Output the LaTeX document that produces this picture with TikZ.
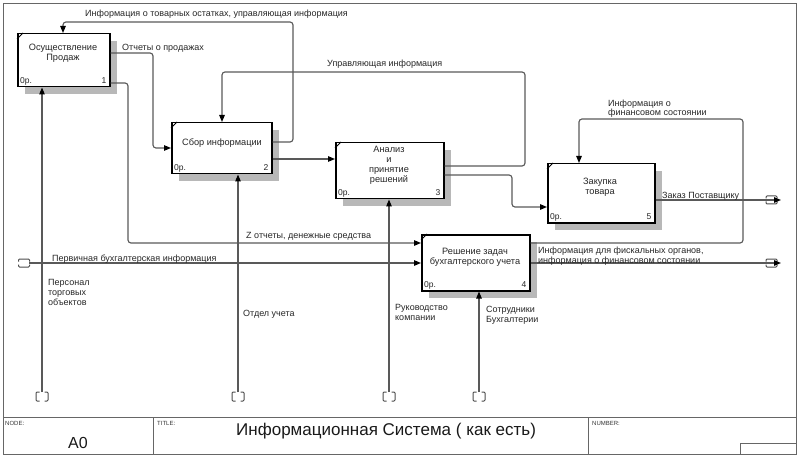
\documentclass[tikz,border=0pt]{standalone}
\usepackage{fontspec}
\setmainfont{Liberation Sans}
\usetikzlibrary{arrows.meta,shadows}
\begin{document}
\begin{tikzpicture}[x=1pt,y=-1pt,
  lf/.style={font=\fontsize{9}{9.8}\selectfont, text=black!85, inner sep=0pt, align=left},
  bt/.style={font=\fontsize{9.2}{10}\selectfont, text=black!85, inner sep=0pt, align=center},
  nl/.style={font=\fontsize{8.5}{9}\selectfont, text=black!85, inner sep=0pt},
  fn/.style={draw=black, line width=1.5pt, fill=white, anchor=north west, inner sep=0pt,
    drop shadow={shadow xshift=7pt, shadow yshift=-7pt, fill=black!28, opacity=1}},
  conn/.style={draw=black!65, line width=1.15pt, rounded corners=3pt},
  arr/.style={conn, -{Triangle[length=7pt,width=5.5pt,color=black,fill=black]}},
  tunh/.pic={\draw[black!70, line width=1pt, rounded corners=1pt]
     (-5.5,-1.5) -- (-5.5,-4) -- (5.5,-4) -- (5.5,-1.5)
     (-5.5,1.5) -- (-5.5,4) -- (5.5,4) -- (5.5,1.5);},
  tunv/.pic={\draw[black!70, line width=1pt, rounded corners=1pt]
     (-2.5,0) -- (-6,0) -- (-6,9) -- (-2.5,9)
     (2.5,0) -- (6,0) -- (6,9) -- (2.5,9);},
  frm/.style={draw=black!60, line width=0.9pt},
  ft/.style={font=\fontsize{6}{6.5}\selectfont, text=black!80, anchor=west, inner sep=0pt}
]
\useasboundingbox (0,0) rectangle (800,457);
% frame
\draw[frm] (3,3) rectangle (796,454);
\draw[frm] (3,417) -- (796,417);
\draw[frm] (153,417) -- (153,454);
\draw[frm] (588,417) -- (588,454);
\draw[frm] (740,454) -- (740,443) -- (796,443);
\node[ft] (tnode) at (5,423) {NODE:};
\node[ft] (ttitle) at (157,423) {TITLE:};
\node[ft] (tnum) at (592,423) {NUMBER:};
\node[font=\fontsize{16}{18}\selectfont, text=black!90, inner sep=0pt] (a0) at (78,443) {A0};
\node[font=\fontsize{17}{19}\selectfont, text=black!90, anchor=west, inner sep=0pt] (title) at (236,431) {Информационная Система ( как есть)};

% boxes
\node[fn, minimum width=92pt, minimum height=53pt,
  label={[nl, anchor=base west, xshift=3pt, yshift=4pt]south west:0р.},
  label={[nl, anchor=base east, xshift=-4pt, yshift=4pt]south east:1}] (b1) at (17,33) {};
\node[fn, minimum width=100pt, minimum height=51pt,
  label={[nl, anchor=base west, xshift=3pt, yshift=4pt]south west:0р.},
  label={[nl, anchor=base east, xshift=-4pt, yshift=4pt]south east:2}] (b2) at (171,122) {};
\node[fn, minimum width=108pt, minimum height=56pt,
  label={[nl, anchor=base west, xshift=3pt, yshift=4pt]south west:0р.},
  label={[nl, anchor=base east, xshift=-4pt, yshift=4pt]south east:3}] (b3) at (335,142) {};
\node[fn, minimum width=108pt, minimum height=56pt,
  label={[nl, anchor=base west, xshift=3pt, yshift=4pt]south west:0р.},
  label={[nl, anchor=base east, xshift=-4pt, yshift=4pt]south east:4}] (b4) at (421,234) {};
\node[fn, minimum width=107pt, minimum height=59pt,
  label={[nl, anchor=base west, xshift=3pt, yshift=4pt]south west:0р.},
  label={[nl, anchor=base east, xshift=-4pt, yshift=4pt]south east:5}] (b5) at (547,163) {};
\foreach \b in {b1,b2,b3,b4,b5}{
  \draw[line width=0.8pt] ([yshift=-6pt]\b.north west) -- ([xshift=6pt]\b.north west);
}
\node[bt] (b1t) at (63,53) {Осуществление\\Продаж};
\node[bt] (b2t) at (222,143) {Сбор информации};
\node[bt] (b3t) at (389,165) {Анализ\\и\\принятие\\решений};
\node[bt] (b4t) at (475,257) {Решение задач\\бухгалтерского учета};
\node[bt] (b5t) at (600,187) {Закупка\\товара};

% tunnels and free ends
\coordinate (tl) at (29,263);
\coordinate (tr1) at (781,200);
\coordinate (tr2) at (781,263);
\coordinate (m1) at (42,392);
\coordinate (m2) at (238,392);
\coordinate (m3) at (389,392);
\coordinate (m4) at (479,392);
\pic at (24,263) {tunh};
\pic at (771.5,200) {tunh};
\pic at (771.5,263) {tunh};
\foreach \m in {m1,m2,m3,m4}{ \pic at (\m) {tunv}; }

% connectors
\draw[arr] (b2.east |- 0,142) -| (293,22) -| (b1.north -| 63,0);
\draw[arr] (b1.east |- 0,53) -| (153,148) -- (b2.west |- 0,148);
\draw[arr] (b1.east |- 0,83) -| (128,243) -- (b4.west |- 0,243);
\draw[arr] (b2.east |- 0,159) -- (b3.west |- 0,159);
\draw[arr] (b3.east |- 0,166) -| (525,72) -| (b2.north -| 222,0);
\draw[arr] (b3.east |- 0,175) -| (512,207) -- (b5.west |- 0,207);
\draw[arr] (b4.east |- 0,243) -| (743,119) -| (b5.north -| 579,0);
\draw[arr] (b5.east |- 0,200) -- (tr1);
\draw[arr] (tl) -- (b4.west |- 0,263);
\draw[arr] (b4.east |- 0,263) -- (tr2);
\draw[arr] (m1) -- (b1.south -| 42,0);
\draw[arr] (m2) -- (b2.south -| 238,0);
\draw[arr] (m3) -- (b3.south -| 389,0);
\draw[arr] (m4) -- (b4.south -| 479,0);

% labels
\node[lf, anchor=base west] (l1) at (85,17) {Информация о товарных остатках, управляющая информация};
\node[lf, anchor=base west] (l2) at (122,51) {Отчеты о продажах};
\node[lf, anchor=base west] (l3) at (327,67) {Управляющая информация};
\node[lf, anchor=base west] (l4) at (608,116) {Информация о\\финансовом состоянии};
\node[lf, anchor=base west] (l5) at (662,199) {Заказ Поставщику};
\node[lf, anchor=base west] (l6) at (246,238) {Z отчеты, денежные средства};
\node[lf, anchor=base west] (l7) at (52,261) {Первичная бухгалтерская информация};
\node[lf, anchor=base west] (l8) at (538,263) {Информация для фискальных органов,\\информация о финансовом состоянии};
\node[lf, anchor=base west] (l9) at (48,305) {Персонал\\торговых\\объектов};
\node[lf, anchor=base west] (l10) at (243,316) {Отдел учета};
\node[lf, anchor=base west] (l11) at (395,320) {Руководство\\компании};
\node[lf, anchor=base west] (l12) at (486,322) {Сотрудники\\Бухгалтерии};
\end{tikzpicture}
\end{document}
